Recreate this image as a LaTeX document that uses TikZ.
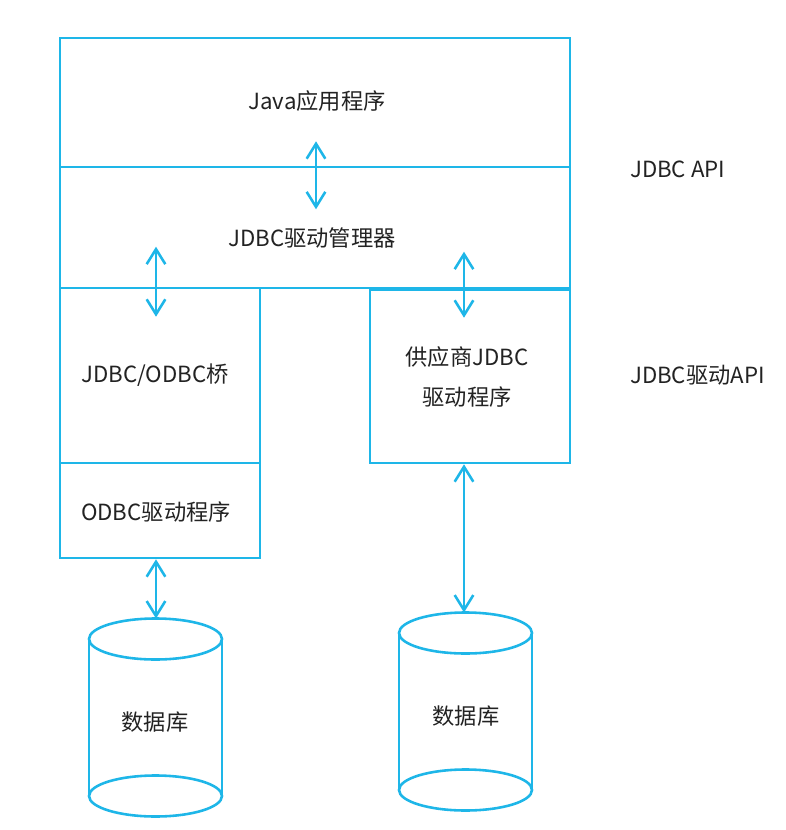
\documentclass[tikz,border=0pt]{standalone}
\usepackage{fontspec}
\setmainfont{Noto Sans CJK SC}
\usetikzlibrary{arrows.meta,calc}
\definecolor{jblue}{RGB}{30,182,232}
\definecolor{jtext}{RGB}{34,34,34}
\begin{document}
\begin{tikzpicture}[x=0.03cm,y=-0.03cm,
  box/.style={draw=jblue,line width=2.2pt,inner sep=0pt},
  cyl/.style={draw=jblue,line width=2.2pt},
  lab/.style={text=jtext,font=\fontsize{19}{23}\selectfont,align=center},
  link/.style={jblue,line width=2.2pt,{Straight Barb[length=4.5mm,width=5.6mm]}-{Straight Barb[length=4.5mm,width=5.6mm]}}]
\def\px{0.03cm};
\def\rx{66.5};
\def\ry{20.5};
\useasboundingbox (0,0) rectangle (786,830);
\node[box,minimum width=510*\px,minimum height=129*\px] (app) at (315,102.5) {};
\node[box,minimum width=510*\px,minimum height=121*\px] (mgr) at (315,227.5) {};
\node[box,minimum width=200*\px,minimum height=175*\px] (bridge) at (160,375.5) {};
\node[box,minimum width=200*\px,minimum height=95*\px] (odbc) at (160,510.5) {};
\node[box,minimum width=200*\px,minimum height=173*\px] (vendor) at (470,376.5) {};
\node[lab] (tapp) at (317,101) {Java应用程序};
\node[lab] (tmgr) at (312,238) {JDBC驱动管理器};
\node[lab] (tbridge) at (155,375) {JDBC/ODBC桥};
\node[lab] (todbc) at (156,512) {ODBC驱动程序};
\node[lab] (tvendor) at (467,377) {供应商JDBC\\[11pt]驱动程序};
\node[lab,anchor=west] (tapi) at (626,169) {JDBC API};
\node[lab,anchor=west] (tdrv) at (626,375) {JDBC驱动API};
\draw[cyl] (155.5-\rx,639) -- (155.5-\rx,796) (155.5+\rx,639) -- (155.5+\rx,796);
\draw[cyl] (155.5,639) ellipse ({\rx} and {\ry});
\draw[cyl] (155.5,796) ellipse ({\rx} and {\ry});
\draw[cyl] (465.5-\rx,633) -- (465.5-\rx,790) (465.5+\rx,633) -- (465.5+\rx,790);
\draw[cyl] (465.5,633) ellipse ({\rx} and {\ry});
\draw[cyl] (465.5,790) ellipse ({\rx} and {\ry});
\node[lab] (db1) at (155,722) {数据库};
\node[lab] (db2) at (466,716) {数据库};
\coordinate (db1top) at (156,618.5);
\coordinate (db2top) at (464,612.5);
\draw[link] ($(app.south)+(1,-27)$) -- ($(app.south)+(1,41)$);
\draw[link] ($(bridge.north)+(-4,-40)$) -- ($(bridge.north)+(-4,30)$);
\draw[link] ($(vendor.north)+(-6,-37)$) -- ($(vendor.north)+(-6,29)$);
\draw[link] ($(odbc.south)+(-4,0)$) -- (db1top);
\draw[link] ($(vendor.south)+(-6,0)$) -- (db2top);
\end{tikzpicture}
\end{document}
